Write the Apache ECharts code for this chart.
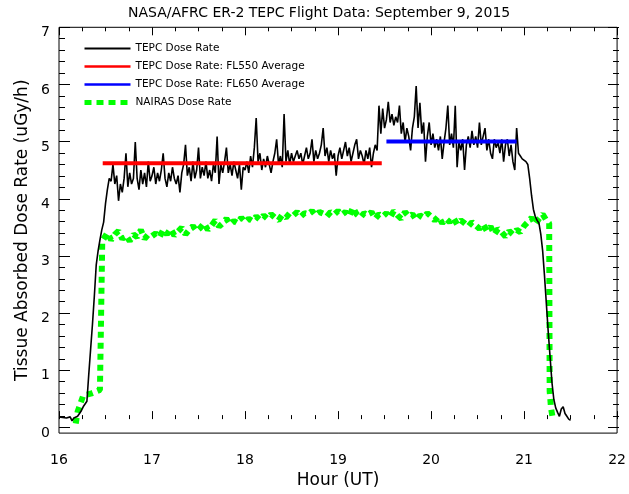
<!DOCTYPE html>
<html><head><meta charset="utf-8">
<script src="https://cdn.jsdelivr.net/npm/echarts@6/dist/echarts.min.js"></script>
<style>html,body{margin:0;padding:0;background:#fff}#c{width:629px;height:494px}</style>
</head><body><div id="c"></div>
<script>
// ---------- data ----------
const titleText = 'NASA/AFRC ER-2 TEPC Flight Data: September 9, 2015';
const xName = 'Hour (UT)';
const yName = 'Tissue Absorbed Dose Rate (uGy/h)';
const seriesNames = ['TEPC Dose Rate', 'TEPC Dose Rate: FL550 Average', 'TEPC Dose Rate: FL650 Average', 'NAIRAS Dose Rate'];

// TEPC measured dose rate, sampled every 0.02 h starting 16.00 UT
const tepcStart = 16.0;
const tepcStep = 0.02;
const tepcRate = [
  0.04,0.02,0.03,0.05,0.02,0.03,0.04,-0.03,0.02,0.04,0.05,0.03,0.15,0.22,0.24,0.32,0.8,1.25,1.7,2.2,2.75,3.0,3.2,3.38,3.52,
  3.85,4.1,4.3,4.25,4.55,4.2,4.35,3.9,4.2,4.05,4.3,4.75,4.15,4.4,4.2,4.3,4.95,4.3,4.1,4.45,4.2,4.4,4.15,4.6,4.25,
  4.35,4.5,4.2,4.4,4.25,4.45,4.75,4.3,4.15,4.4,4.25,4.5,4.3,4.2,4.35,4.05,4.4,4.55,4.9,4.35,4.5,4.25,4.6,4.3,4.45,
  4.85,4.3,4.5,4.35,4.6,4.3,4.45,4.25,4.55,4.4,5.05,4.2,4.55,4.4,4.6,4.85,4.4,4.55,4.35,4.6,4.45,4.3,4.55,4.1,4.5,
  4.45,4.6,4.4,4.7,4.5,4.85,5.38,4.6,4.75,4.45,4.65,4.5,4.7,4.55,4.4,4.6,4.75,5.0,4.55,4.7,4.5,5.45,4.6,4.8,4.55,
  4.75,4.6,4.7,4.8,4.65,4.75,4.55,4.7,4.85,4.65,4.75,5.0,4.6,4.8,4.65,4.75,4.9,5.2,4.7,4.85,4.6,4.8,4.65,4.75,4.35,
  4.7,4.85,4.65,4.8,4.95,4.7,4.85,4.6,4.75,4.9,5.0,4.65,4.8,4.7,4.55,4.8,4.65,4.85,4.5,4.75,4.9,4.8,5.6,5.1,5.55,
  5.2,5.35,5.67,5.3,5.45,5.25,5.4,5.3,5.6,5.1,5.3,4.95,5.2,5.05,4.8,5.2,5.4,5.95,5.2,5.65,5.1,5.3,4.6,5.05,5.3,
  4.9,5.1,4.85,5.0,4.8,5.05,4.65,4.95,5.2,5.6,4.9,5.1,4.85,5.6,4.5,4.95,4.8,5.0,4.45,4.9,5.05,4.85,5.15,4.9,5.05,
  4.85,5.3,4.9,5.05,5.2,4.8,5.0,4.75,4.65,5.0,4.85,4.95,4.75,5.0,4.6,4.9,5.0,4.7,4.9,4.6,4.45,5.2,4.75,4.7,4.65,
  4.62,4.6,4.55,4.3,4.0,3.75,3.62,3.55,3.5,3.3,3.0,2.55,2.05,1.55,1.1,0.65,0.35,0.2,0.12,0.05,0.18,0.22,0.1,0.05,0.0,-0.02
];

// NAIRAS model dose rate: climb-out, cruise band (every 0.04 h from 16.48 UT), descent
const nairasLeadHours = [16.18, 16.20, 16.26, 16.35, 16.44, 16.455, 16.465];
const nairasLeadRate  = [-0.08, 0.13, 0.42, 0.46, 0.52, 0.55, 3.18];
const nairasBandStart = 16.48;
const nairasBandStep = 0.04;
const nairasBandRate = [
  3.22,3.33,3.2,3.3,3.36,3.22,3.28,3.18,3.3,3.25,3.38,3.22,3.3,3.27,
  3.32,3.25,3.38,3.3,3.4,3.28,3.35,3.42,3.3,3.38,3.45,3.36,
  3.42,3.5,3.38,3.46,3.55,3.44,3.5,3.58,3.48,3.54,3.5,3.6,3.52,
  3.58,3.54,3.62,3.56,3.64,3.58,3.66,3.6,3.55,3.65,3.6,3.68,
  3.64,3.7,3.62,3.68,3.66,3.72,3.64,3.7,3.67,3.62,3.7,3.66,3.72,
  3.65,3.7,3.62,3.78,3.66,3.6,3.68,3.64,3.7,3.58,3.66,3.62,
  3.68,3.6,3.72,3.64,3.58,3.7,3.62,3.66,3.56,3.64,3.6,3.68,3.62,
  3.55,3.62,3.5,3.58,3.52,3.6,3.48,3.55,3.5,3.44,3.52,3.46,
  3.4,3.48,3.36,3.44,3.3,3.4,3.34,3.26,3.36,3.3,3.38,3.34,3.45,
  3.52,3.6,3.48,3.58,3.66,3.55
];
const nairasTailHours = [21.27, 21.275, 21.29, 21.31];
const nairasTailRate  = [3.5, 0.5, 0.19, 0.0];

// flight-level averages
const fl550Hours = [16.47, 19.47];
const fl550Rate  = [4.57, 4.57];
const fl650Hours = [19.52, 20.92];
const fl650Rate  = [4.96, 4.96];

// axes
const xMin = 16, xMax = 22, xStep = 1;
const yMin = 0, yMax = 7, yStep = 1;
const yFrameMin = -0.25;

// ---------- build ----------
const tepcData = tepcRate.map((v, i) => [+(tepcStart + i * tepcStep).toFixed(3), v]);
const nairasData = []
  .concat(nairasLeadHours.map((h, i) => [h, nairasLeadRate[i]]))
  .concat(nairasBandRate.map((v, i) => [+(nairasBandStart + i * nairasBandStep).toFixed(3), v]))
  .concat(nairasTailHours.map((h, i) => [h, nairasTailRate[i]]));
const fl550Data = fl550Hours.map((h, i) => [h, fl550Rate[i]]);
const fl650Data = fl650Hours.map((h, i) => [h, fl650Rate[i]]);

const FONT = 'DejaVu Sans';
const tickCommon = (len, minLen, minSplit) => ({
  axisLine: { show: false },
  axisTick: { show: true, inside: true, length: len, lineStyle: { color: '#000', width: 1 } },
  minorTick: { show: true, splitNumber: minSplit, length: minLen, lineStyle: { color: '#000', width: 1 } },
  splitLine: { show: false }
});

const chart = echarts.init(document.getElementById('c'), null, { renderer: 'canvas' });
chart.setOption({
  animation: false,
  backgroundColor: '#fff',
  title: {
    text: titleText, left: 128, top: 6, padding: 0,
    textStyle: { fontFamily: FONT, fontSize: 14, fontWeight: 'normal', color: '#000' }
  },
  legend: {
    orient: 'vertical', left: 82, top: 43, padding: 0, itemWidth: 46, itemHeight: 12, itemGap: 7,
    selectedMode: false,
    itemStyle: { opacity: 0 },
    data: [
      { name: seriesNames[0], lineStyle: { width: 2 } },
      { name: seriesNames[1], lineStyle: { width: 2.5 } },
      { name: seriesNames[2], lineStyle: { width: 2.5 } },
      { name: seriesNames[3], lineStyle: { width: 5, type: [7, 5] } }
    ],
    textStyle: { fontFamily: FONT, fontSize: 10.5, color: '#000' }
  },
  grid: [
    { left: 59, right: 10, top: 27.3, bottom: 52.3, show: true, borderColor: '#000', borderWidth: 1, backgroundColor: 'transparent' },
    { left: 59, right: 10, top: 27.3, bottom: 66.6 }
  ],
  xAxis: [
    Object.assign({
      gridIndex: 0, type: 'value', min: xMin, max: xMax, interval: xStep,
      axisLabel: { color: '#000', fontFamily: FONT, fontSize: 14, margin: 20 },
      name: xName, nameLocation: 'middle', nameGap: 31,
      nameTextStyle: { fontFamily: FONT, fontSize: 17, color: '#000' }
    }, tickCommon(8, 4, 4)),
    Object.assign({
      gridIndex: 0, type: 'value', position: 'top', min: xMin, max: xMax, interval: xStep,
      axisLabel: { show: false }
    }, tickCommon(8, 4, 4)),
    { gridIndex: 1, type: 'value', min: xMin, max: xMax, show: false }
  ],
  yAxis: [
    {
      gridIndex: 0, type: 'value', min: yFrameMin, max: yMax,
      axisLine: { show: false }, axisTick: { show: false }, axisLabel: { show: false }, splitLine: { show: false },
      name: yName, nameLocation: 'middle', nameGap: 28, nameRotate: 90,
      nameTextStyle: { fontFamily: FONT, fontSize: 17, color: '#000' }
    },
    Object.assign({
      gridIndex: 1, type: 'value', min: yMin, max: yMax, interval: yStep,
      axisLabel: { color: '#000', fontFamily: FONT, fontSize: 14, margin: 9, verticalAlign: 'top', lineHeight: 11 }
    }, tickCommon(11, 6, 5)),
    Object.assign({
      gridIndex: 1, type: 'value', position: 'right', min: yMin, max: yMax, interval: yStep,
      axisLabel: { show: false }
    }, tickCommon(11, 6, 5))
  ],
  series: [
    {
      name: seriesNames[0], type: 'line', data: tepcData, xAxisIndex: 0, yAxisIndex: 0,
      symbol: 'none', showSymbol: false, z: 3,
      lineStyle: { color: '#000', width: 1.6 }, itemStyle: { color: '#000' }
    },
    {
      name: seriesNames[1], type: 'line', data: fl550Data, xAxisIndex: 0, yAxisIndex: 0,
      symbol: 'none', showSymbol: false, z: 4,
      lineStyle: { color: '#ff0000', width: 4, cap: 'butt' }, itemStyle: { color: '#ff0000' }
    },
    {
      name: seriesNames[2], type: 'line', data: fl650Data, xAxisIndex: 0, yAxisIndex: 0,
      symbol: 'none', showSymbol: false, z: 4,
      lineStyle: { color: '#0000ff', width: 4, cap: 'butt' }, itemStyle: { color: '#0000ff' }
    },
    {
      name: seriesNames[3], type: 'line', data: nairasData, xAxisIndex: 0, yAxisIndex: 0,
      symbol: 'none', showSymbol: false, z: 2,
      lineStyle: { color: '#00ff00', width: 6, type: [6, 5], cap: 'butt' }, itemStyle: { color: '#00ff00' }
    }
  ]
});
</script>
</body></html>
